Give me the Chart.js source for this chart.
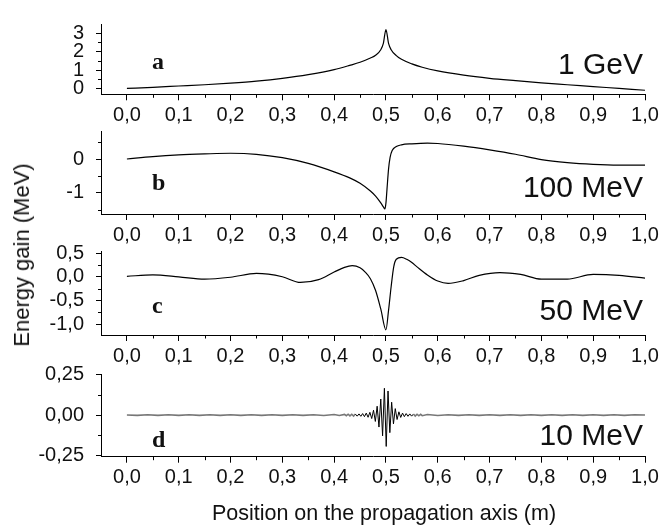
<!DOCTYPE html>
<html>
<head>
<meta charset="utf-8">
<script src="https://cdn.jsdelivr.net/npm/chart.js@4.4.1/dist/chart.umd.min.js"></script>
<style>
  html, body { margin: 0; padding: 0; background: #fff; }
  #wrap { position: relative; width: 671px; height: 525px; overflow: hidden; }
  #wrap canvas { position: absolute; left: 0; top: 0; }
  #ytitle {
    position: absolute; left: 22px; top: 255px;
    transform: translate(-50%, -50%) rotate(-90deg);
    font: 22px 'Liberation Sans', Arial, sans-serif; color: #111; white-space: nowrap;
  }
</style>
</head>
<body>
<div id="wrap">
  <canvas id="pa" width="671" height="525"></canvas>
  <canvas id="pb" width="671" height="525"></canvas>
  <canvas id="pc" width="671" height="525"></canvas>
  <canvas id="pd" width="671" height="525"></canvas>
  <div id="ytitle">Energy gain (MeV)</div>
</div>
<script>
'use strict';

// ---- data (position in m, energy gain in MeV) ----
const xA = [0, 0.05, 0.1, 0.15, 0.2, 0.25, 0.3, 0.35, 0.4, 0.43, 0.45, 0.47, 0.48, 0.49, 0.495, 0.5,
            0.505, 0.51, 0.52, 0.53, 0.55, 0.57, 0.6, 0.65, 0.7, 0.75, 0.8, 0.85, 0.9, 0.95, 1.0];
const yA = [0, 0.06, 0.13, 0.2, 0.29, 0.4, 0.55, 0.75, 1.02, 1.25, 1.42, 1.65, 1.8, 2.1, 2.45, 3.2,
            2.45, 2.1, 1.78, 1.58, 1.33, 1.15, 0.95, 0.72, 0.55, 0.42, 0.3, 0.2, 0.1, 0.0, -0.1];

const xB = [0, 0.05, 0.1, 0.15, 0.2, 0.25, 0.3, 0.35, 0.4, 0.43, 0.45, 0.47, 0.48, 0.49, 0.495, 0.498,
            0.5, 0.502, 0.505, 0.508, 0.512, 0.52, 0.53, 0.55, 0.58, 0.6, 0.65, 0.7, 0.75, 0.8, 0.85, 0.9, 0.95, 1.0];
const yB = [0, 0.07, 0.12, 0.15, 0.17, 0.14, 0.04, -0.13, -0.38, -0.56, -0.72, -0.95, -1.1, -1.3, -1.42, -1.48,
            -1.3, -0.9, -0.3, 0.05, 0.25, 0.37, 0.42, 0.45, 0.47, 0.46, 0.38, 0.27, 0.14, -0.02, -0.11, -0.16, -0.18, -0.18];

const xC = [0, 0.05, 0.1, 0.15, 0.2, 0.25, 0.3, 0.335, 0.37, 0.4, 0.42, 0.435, 0.45, 0.46, 0.47, 0.48, 0.49, 0.5,
            0.505, 0.51, 0.515, 0.52, 0.53, 0.54, 0.55, 0.56, 0.58, 0.6, 0.62, 0.65, 0.68, 0.72, 0.76, 0.8, 0.85, 0.9, 0.95, 1.0];
const yC = [0.01, 0.04, 0.0, -0.05, -0.01, 0.07, 0.0, -0.12, -0.06, 0.1, 0.2, 0.235, 0.19, 0.1, -0.04, -0.29, -0.68, -1.12,
            -0.71, -0.21, 0.21, 0.37, 0.41, 0.37, 0.3, 0.21, 0.04, -0.09, -0.14, -0.08, 0.03, 0.09, 0.05, -0.05, -0.05, 0.05, 0.03, -0.03];

const xD = [0, 0.02, 0.04, 0.06, 0.08, 0.1, 0.12, 0.14, 0.16, 0.18, 0.2, 0.22, 0.24, 0.26, 0.28, 0.3, 0.32, 0.34, 0.36, 0.38,
            0.4, 0.41, 0.42, 0.4235, 0.427, 0.4305, 0.434, 0.4375, 0.441, 0.4445, 0.448, 0.4515, 0.455, 0.4585, 0.462,
            0.4655, 0.469, 0.4725, 0.476, 0.4795, 0.483, 0.4865, 0.49, 0.4935, 0.497, 0.5005, 0.504, 0.5075, 0.511,
            0.5145, 0.518, 0.5215, 0.525, 0.5285, 0.532, 0.5355, 0.539, 0.5425, 0.546, 0.5495, 0.553, 0.5565, 0.56,
            0.5635, 0.567, 0.57, 0.58, 0.6, 0.62, 0.64, 0.66, 0.68, 0.7, 0.72, 0.74, 0.76, 0.78, 0.8, 0.82, 0.84,
            0.86, 0.88, 0.9, 0.92, 0.94, 0.96, 0.98, 1.0];
const yD = [0, -0.002, 0.002, -0.002, 0.002, -0.002, 0.002, -0.002, 0.002, -0.002, 0.002, -0.002, 0.002, -0.002, 0.002, -0.002, 0.002, -0.002, 0.002, -0.003,
            0.003, -0.003, 0.004, -0.004, 0.005, -0.005, 0.005, -0.006, 0.006, -0.007, 0.007, -0.008, 0.009, -0.01, 0.012,
            -0.014, 0.017, -0.022, 0.03, -0.04, 0.055, -0.075, 0.1, -0.13, 0.167, -0.196, 0.15, -0.11, 0.08,
            -0.055, 0.04, -0.028, 0.02, -0.015, 0.012, -0.01, 0.009, -0.008, 0.007, -0.007, 0.006, -0.006, 0.005,
            -0.005, 0.004, -0.004, 0.003, -0.003, 0.002, -0.002, 0.002, -0.002, 0.002, -0.002, 0.002, -0.002, 0.002, -0.002, 0.002, -0.002,
            0.002, -0.002, 0.002, -0.002, 0.002, -0.002, 0.002, 0];

// ---- ticks ----
const xTicks = [0, 0.1, 0.2, 0.3, 0.4, 0.5, 0.6, 0.7, 0.8, 0.9, 1.0];
const xMinor = [0.05, 0.15, 0.25, 0.35, 0.45, 0.55, 0.65, 0.75, 0.85, 0.95];
const yTicksA = [0, 1, 2, 3],           yMinorA = [0.5, 1.5, 2.5];
const yTicksB = [-1, 0],                yMinorB = [-1.5, -0.5, 0.5];
const yTicksC = [-1, -0.5, 0, 0.5],     yMinorC = [-0.75, -0.25, 0.25];
const yTicksD = [-0.25, 0, 0.25],       yMinorD = [-0.125, 0.125];

const letters  = ['a', 'b', 'c', 'd'];
const energies = ['1 GeV', '100 MeV', '50 MeV', '10 MeV'];
const xTitle = 'Position on the propagation axis (m)';

const FONT = "'Liberation Sans', Arial, sans-serif";
const fmt = (v, dec) => Number(v).toFixed(dec).replace('.', ',');

const panels = [
    { id: 'pa', xs: xA, ys: yA, yMin: -0.32, yMax: 3.5,  yTicks: yTicksA, yMinor: yMinorA, dec: 0, top: 11.7,  bottom: 94.3,  letterY: 45.3, energyY: 50.3 },
    { id: 'pb', xs: xB, ys: yB, yMin: -1.63, yMax: 0.83, yTicks: yTicksB, yMinor: yMinorB, dec: 0, top: 131,   bottom: 214,   letterY: 59,   energyY: 66 },
    { id: 'pc', xs: xC, ys: yC, yMin: -1.23, yMax: 0.53, yTicks: yTicksC, yMinor: yMinorC, dec: 1, top: 251.7, bottom: 335,   letterY: 61.3, energyY: 68.3 },
    { id: 'pd', xs: xD, ys: yD, yMin: -0.26, yMax: 0.256, yTicks: yTicksD, yMinor: yMinorD, dec: 2, top: 374,  bottom: 456.7, letterY: 73,   energyY: 71 },
];

const minorTicks = {
    id: 'minorTicks',
    afterDraw(chart) {
        const { ctx, scales: { x, y } } = chart;
        const o = chart.options.plugins.minorTicks;
        ctx.save();
        ctx.strokeStyle = '#000';
        ctx.lineWidth = 1;
        ctx.beginPath();
        o.xMinor.forEach(v => {
            const px = Math.round(x.getPixelForValue(v)) + 0.5;
            ctx.moveTo(px, x.top); ctx.lineTo(px, x.top + 3.5);
        });
        o.yMinor.forEach(v => {
            const py = Math.round(y.getPixelForValue(v)) + 0.5;
            ctx.moveTo(y.right, py); ctx.lineTo(y.right - 3, py);
        });
        ctx.stroke();
        ctx.restore();
    },
};

const panelText = {
    id: 'panelText',
    afterDatasetsDraw(chart) {
        const { ctx, chartArea } = chart;
        const o = chart.options.plugins.panelText;
        ctx.save();
        ctx.fillStyle = '#111';
        ctx.textBaseline = 'alphabetic';
        ctx.font = "bold 24px 'Liberation Serif', 'Times New Roman', serif";
        ctx.textAlign = 'left';
        ctx.fillText(o.letter, 152, chartArea.top + o.letterY);
        ctx.font = '30px ' + FONT;
        ctx.textAlign = 'right';
        ctx.fillText(o.energy, chartArea.right - 2, chartArea.top + o.energyY);
        if (o.title) {
            // axis title sits a little right of the plot centre in the original
            ctx.font = '21.5px ' + FONT;
            ctx.textAlign = 'center';
            ctx.fillText(o.title, (chartArea.left + chartArea.right) / 2 + 11, 520);
        }
        ctx.restore();
    },
};

panels.forEach((p, i) => {
    const last = i === panels.length - 1;
    const xh = 30;
    const isD = p.id === 'pd';
    const tiny = c => Math.abs(c.p0.parsed.y) < 0.0065 && Math.abs(c.p1.parsed.y) < 0.0065;

    new Chart(document.getElementById(p.id), {
        type: 'line',
        data: {
            datasets: [{
                data: p.xs.map((x, k) => ({ x, y: p.ys[k] })),
                borderColor: '#000',
                borderWidth: isD ? 1 : 1.2,
                pointRadius: 0,
                cubicInterpolationMode: isD ? 'default' : 'monotone',
                tension: 0,
                segment: isD ? {
                    borderColor: c => tiny(c) ? '#777' : '#000',
                    borderWidth: c => tiny(c) ? 1.6 : 1,
                } : undefined,
            }],
        },
        options: {
            responsive: false,
            animation: false,
            devicePixelRatio: 1,
            events: [],
            layout: {
                autoPadding: false,
                padding: { left: 0, right: 26, top: p.top, bottom: 525 - p.bottom - xh },
            },
            plugins: {
                legend: { display: false },
                tooltip: { enabled: false },
                minorTicks: { xMinor, yMinor: p.yMinor },
                panelText: {
                    letter: letters[i], energy: energies[i],
                    letterY: p.letterY, energyY: p.energyY,
                    title: last ? xTitle : '',
                },
            },
            scales: {
                x: {
                    type: 'linear', min: -0.05, max: 1.0,
                    afterBuildTicks: s => { s.ticks = xTicks.map(v => ({ value: v })); },
                    afterFit: s => { s.height = xh; },
                    grid: { drawOnChartArea: false, color: '#000', tickLength: 6, lineWidth: 1 },
                    border: { display: true, color: '#000', width: 1 },
                    ticks: {
                        color: '#111', font: { family: FONT, size: 20 }, padding: 3,
                        maxRotation: 0, autoSkip: false, callback: v => fmt(v, 1),
                    },
                },
                y: {
                    type: 'linear', min: p.yMin, max: p.yMax,
                    afterBuildTicks: s => { s.ticks = p.yTicks.map(v => ({ value: v })); },
                    afterFit: s => { s.width = 101; },
                    grid: { drawOnChartArea: false, color: '#000', tickLength: 5, lineWidth: 1 },
                    border: { display: true, color: '#000', width: 1 },
                    ticks: {
                        color: '#111', font: { family: FONT, size: 20 }, padding: 12,
                        autoSkip: false, callback: v => fmt(v, p.dec),
                    },
                },
            },
        },
        plugins: [minorTicks, panelText],
    });
});
</script>
</body>
</html>
